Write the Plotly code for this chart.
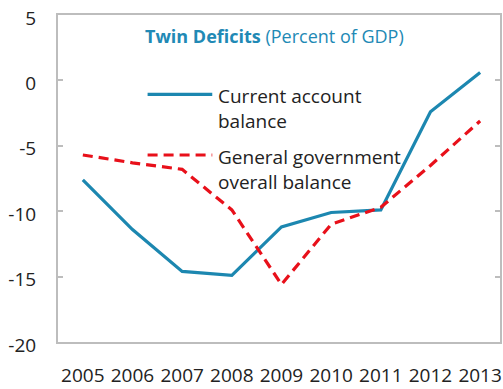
import plotly.graph_objects as go

# Data: percent of GDP
years = [2005, 2006, 2007, 2008, 2009, 2010, 2011, 2012, 2013]
year_labels = [str(y) for y in years]
current_account = [-7.6, -11.4, -14.6, -14.9, -11.2, -10.1, -9.9, -2.4, 0.6]
gov_balance = [-5.7, -6.3, -6.8, -9.9, -15.6, -11.0, -9.7, -6.5, -3.1]
y_ticks = [-20, -15, -10, -5, 0, 5]
y_tick_labels = ["-20", "-15", "-10", "-5", "0", "5"]

BLUE = "#1C87B0"
RED = "#E8101A"
FRAME = "#BDBDBD"
TEXT = "#222222"
FONT = "Open Sans"
SIZE = 19

fig = go.Figure()
fig.add_trace(go.Scatter(
    x=years, y=current_account, mode="lines", name="Current account balance",
    line=dict(color=BLUE, width=3.2), showlegend=False,
))
fig.add_trace(go.Scatter(
    x=years, y=gov_balance, mode="lines", name="General government overall balance",
    line=dict(color=RED, width=3.2, dash="10px,6px"), showlegend=False,
))

x_range = [2004.5, 2013.4]
y_range = [-20, 5]

fig.update_layout(
    width=503, height=389,
    margin=dict(l=58, r=1, t=15, b=41),
    paper_bgcolor="white", plot_bgcolor="white",
    font=dict(family=FONT, size=SIZE, color=TEXT),
    xaxis=dict(
        range=x_range, tickvals=years, ticktext=year_labels,
        showline=True, mirror=True, linecolor=FRAME, linewidth=2,
        ticks="", showgrid=False, zeroline=False,
        ticklabelstandoff=15,
        tickfont=dict(size=SIZE, color=TEXT),
    ),
    # zero line with category-boundary ticks pointing up
    xaxis2=dict(
        overlaying="x", anchor="free", position=(0 - y_range[0]) / (y_range[1] - y_range[0]),
        range=x_range, tickvals=[y + 0.5 for y in years[:-1]],
        ticks="inside", ticklen=6, tickwidth=1.5, tickcolor=FRAME,
        showticklabels=False, showline=True, linecolor=FRAME, linewidth=2,
        showgrid=False, zeroline=False,
    ),
    yaxis=dict(
        range=y_range, tickvals=y_ticks, ticktext=y_tick_labels,
        ticks="inside", ticklen=5, tickwidth=1.5, tickcolor=FRAME,
        showline=True, mirror="ticks", linecolor=FRAME, linewidth=2,
        showgrid=False, zeroline=False,
        ticklabelstandoff=16, ticklabelshift=3,
        tickfont=dict(size=SIZE, color=TEXT),
    ),
)

# Title inside the frame
fig.add_annotation(
    xref="paper", yref="paper", x=0.49, y=0.935, xanchor="center", yanchor="middle",
    text="<b>Twin Deficits</b> (Percent of GDP)", showarrow=False,
    font=dict(family=FONT, size=18, color="#2189B5"),
)

# Legend: sample lines and labels
legend_items = [
    ("Current account", "balance", BLUE, "solid", 0.7575),
    ("General government", "overall balance", RED, "10px,6px", 0.5719),
]
for line1, line2, color, dash, ypos in legend_items:
    fig.add_shape(
        type="line", xref="paper", yref="paper",
        x0=0.2027, x1=0.349, y0=ypos, y1=ypos,
        line=dict(color=color, width=3.2, dash=dash),
    )
    fig.add_annotation(
        xref="paper", yref="paper", x=0.358, y=ypos - 0.006, xanchor="left", yanchor="middle",
        text=line1, showarrow=False, font=dict(family=FONT, size=SIZE, color=TEXT),
    )
    fig.add_annotation(
        xref="paper", yref="paper", x=0.358, y=ypos - 0.082, xanchor="left", yanchor="middle",
        text=line2, showarrow=False, font=dict(family=FONT, size=SIZE, color=TEXT),
    )

fig.write_html("out.html")
